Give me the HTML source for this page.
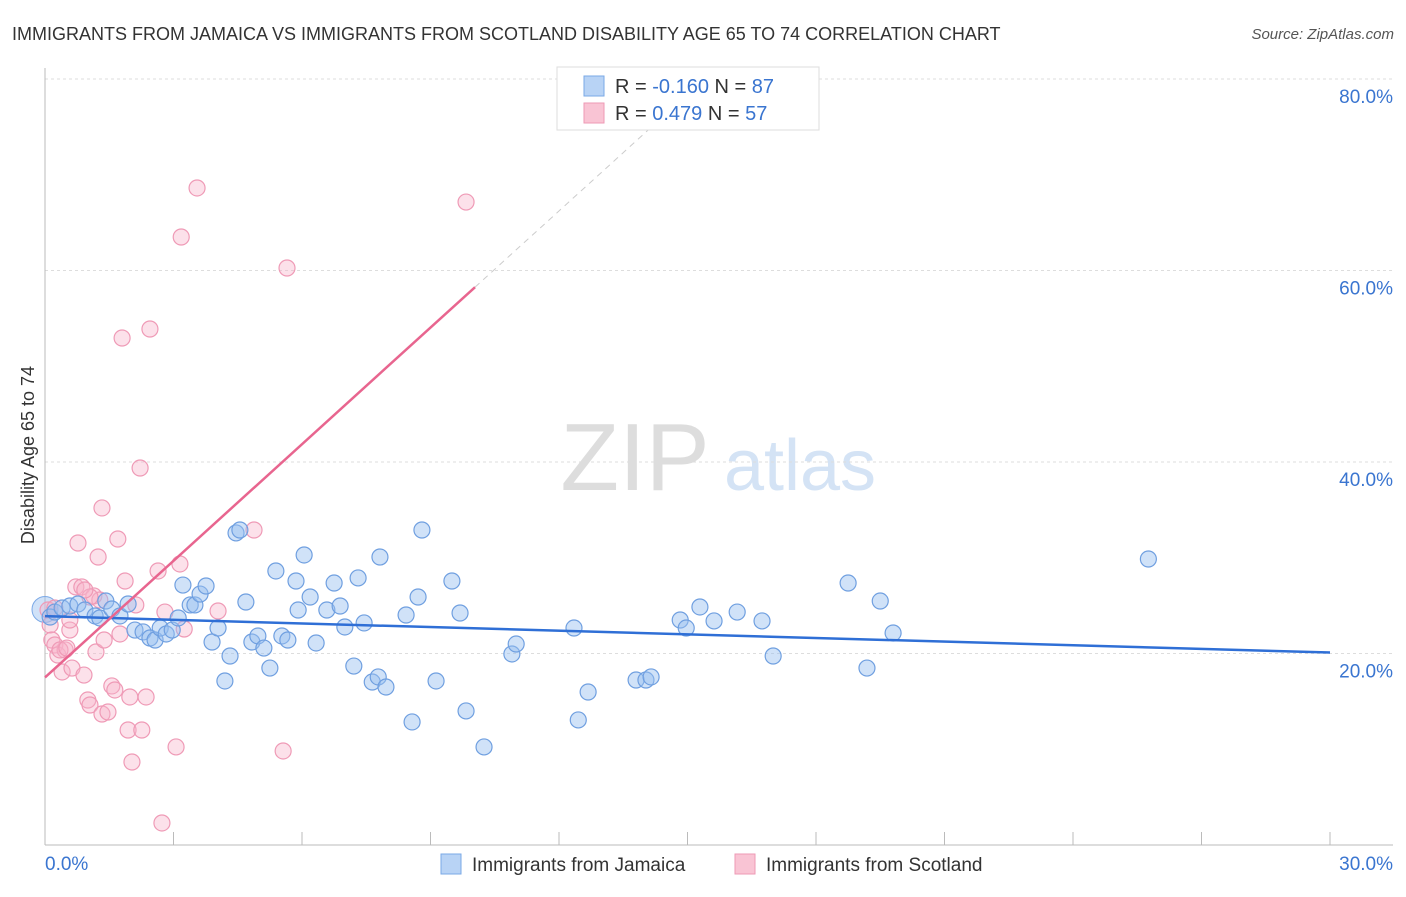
<!DOCTYPE html>
<html><head><meta charset="utf-8"><style>
body{margin:0;background:#fff;font-family:"Liberation Sans",sans-serif}
svg text{font-family:"Liberation Sans",sans-serif}
</style></head><body>
<svg id="c" width="1406" height="892">
<text x="12" y="40" font-size="18" fill="#333">IMMIGRANTS FROM JAMAICA VS IMMIGRANTS FROM SCOTLAND DISABILITY AGE 65 TO 74 CORRELATION CHART</text>
<text x="1394" y="39" font-size="15" fill="#555" font-style="italic" text-anchor="end">Source: ZipAtlas.com</text>
<text x="34" y="455" font-size="18" fill="#333" text-anchor="middle" transform="rotate(-90 34 455)">Disability Age 65 to 74</text>
<g><text x="635" y="490" font-size="96" fill="#ddd" font-family="Liberation Serif" text-anchor="middle">ZIP</text><text x="800" y="490" font-size="72" fill="#d4e3f5" text-anchor="middle">atlas</text></g>
<g id="grid"></g><g id="marks"></g>
<g>
<rect x="557" y="67" width="262" height="63" fill="#fff" stroke="#ddd"/>
<rect x="584" y="76" width="20" height="20" fill="#b8d3f5" stroke="#7aa8e6"/>
<rect x="584" y="103" width="20" height="20" fill="#f9c4d4" stroke="#ee9ab5"/>
<text x="615" y="93" font-size="20" fill="#333">R = <tspan fill="#3a75d0">-0.160</tspan>   N = <tspan fill="#3a75d0">87</tspan></text>
<text x="615" y="120" font-size="20" fill="#333">R =  <tspan fill="#3a75d0">0.479</tspan>   N = <tspan fill="#3a75d0">57</tspan></text>
</g>
<g>
<rect x="441" y="854" width="20" height="20" fill="#b8d3f5" stroke="#7aa8e6"/>
<text x="472" y="871" font-size="19" fill="#333">Immigrants from Jamaica</text>
<rect x="735" y="854" width="20" height="20" fill="#f9c4d4" stroke="#ee9ab5"/>
<text x="766" y="871" font-size="19" fill="#333">Immigrants from Scotland</text>
</g>
</svg>
<script>
const blueX=[0.12,0.23,0.40,0.58,0.77,0.93,1.17,1.28,1.42,1.56,1.75,1.94,2.10,2.29,2.45,2.57,2.69,2.83,2.97,3.11,3.22,3.39,3.50,3.62,3.76,3.90,4.04,4.20,4.32,4.46,4.55,4.69,4.83,4.97,5.11,5.25,5.39,5.53,5.67,5.86,5.91,6.05,6.19,6.33,6.58,6.75,6.89,7.00,7.21,7.31,7.45,7.64,7.78,7.96,7.82,8.43,8.57,8.71,8.80,9.13,9.50,9.69,9.83,10.25,10.90,11.00,12.35,12.45,12.68,13.80,14.03,14.15,14.83,14.97,15.29,15.62,16.16,16.74,17.00,18.75,19.19,19.50,19.80,25.76];
const blueY=[23.81,24.33,24.75,24.96,25.17,24.54,23.92,23.71,25.48,24.65,23.92,25.17,22.45,22.25,21.62,21.41,22.66,22.04,22.45,23.71,27.15,25.07,25.07,26.21,27.05,21.20,22.66,17.13,19.74,32.59,32.90,25.38,21.20,21.83,20.57,18.48,28.62,21.83,21.41,27.57,24.54,30.29,25.90,21.10,24.54,27.36,24.96,22.77,18.69,27.89,23.19,17.02,17.55,16.50,30.08,24.02,12.85,25.90,32.90,17.13,27.57,24.23,14.00,10.24,19.95,20.99,22.66,13.06,15.98,17.23,17.23,17.55,23.50,22.66,24.86,23.40,24.33,23.40,19.74,27.36,18.48,25.48,22.14,29.87];
const pinkX=[0.07,0.12,0.16,0.23,0.30,0.40,0.47,0.58,0.63,0.72,0.77,0.86,0.91,1.00,1.05,1.14,1.19,1.24,1.28,1.33,1.38,1.47,1.56,1.63,1.70,1.75,1.87,1.94,1.98,2.03,2.12,2.22,2.26,2.36,2.45,2.64,2.73,2.80,3.06,3.15,3.18,3.25,3.55,4.04,4.88,5.56,5.65,9.83,1.80,0.35,0.51,0.23,1.33,0.58,1.05,0.93];
const pinkY=[24.54,22.98,21.41,20.89,19.84,18.07,20.37,22.45,18.48,26.95,31.54,26.95,17.75,15.14,14.62,26.01,20.16,30.08,25.59,13.68,21.41,13.89,16.61,16.19,31.96,22.04,27.57,12.01,15.46,8.67,25.07,39.37,12.01,15.46,53.89,28.62,2.30,24.33,10.24,29.35,63.50,22.56,68.62,24.44,32.90,9.82,60.26,67.15,52.95,20.37,20.57,24.75,35.20,23.50,25.90,26.63];
const yTicks=[20,40,60,80];
const xTickLabels=["0.0%","30.0%"];
const blueFit=[23.9,20.1];
const pinkFit=[17.5,4.06];
const NS="http://www.w3.org/2000/svg";
const sx=v=>45+v/30*1285, sy=v=>845-v/20*191.5;
function mk(t,a,p){const e=document.createElementNS(NS,t);for(const k in a)e.setAttribute(k,a[k]);p.appendChild(e);return e;}
const g=document.getElementById('grid'),m=document.getElementById('marks');
yTicks.forEach(t=>{const l=mk('line',{x1:45,x2:1393,y1:sy(t),y2:sy(t),stroke:'#ddd','stroke-dasharray':'3,3'},g);


const tx=mk('text',{x:1393,y:sy(t)+24,'font-size':19,fill:'#3a75d0','text-anchor':'end'},g);tx.textContent=t.toFixed(1)+'%';

});
const ax=mk('line',{x1:45,x2:1393,y1:845,y2:845,stroke:'#bbb'},g);


const ay=mk('line',{x1:45,x2:45,y1:68,y2:845,stroke:'#bbb'},g);


for(let i=0;i<=10;i++){const t=mk('line',{x1:sx(i*3),x2:sx(i*3),y1:845,y2:832,stroke:'#bbb'},g);

}
xTickLabels.forEach((s,i)=>{const t=mk('text',{x:i?1393:45,y:870,'font-size':19,fill:'#3a75d0','text-anchor':i?'end':'start'},g);t.textContent=s;

});
const big=mk('circle',{cx:sx(0),cy:sy(24.6),r:13,fill:'rgba(150,190,240,0.45)',stroke:'#7aa8e6'},m);


pinkX.forEach((x,i)=>{const c=mk('circle',{cx:sx(x),cy:sy(pinkY[i]),r:8,fill:'rgba(247,180,202,0.4)',stroke:'#ef9ab6','stroke-width':1.2},m);

});
blueX.forEach((x,i)=>{const c=mk('circle',{cx:sx(x),cy:sy(blueY[i]),r:8,fill:'rgba(150,190,240,0.45)',stroke:'#6f9fe0','stroke-width':1.2},m);

});
const bl=mk('line',{x1:sx(0),y1:sy(blueFit[0]),x2:sx(30),y2:sy(blueFit[1]),stroke:'#2f6fd6','stroke-width':2.5},m);


const pf=x=>pinkFit[0]+pinkFit[1]*x;
const pl=mk('line',{x1:sx(0),y1:sy(pf(0)),x2:sx(10.04),y2:sy(pf(10.04)),stroke:'#e8658f','stroke-width':2.5},m);


const pd=mk('line',{x1:sx(10.04),y1:sy(pf(10.04)),x2:sx(14.2),y2:sy(pf(14.2)),stroke:'#ccc','stroke-width':1,'stroke-dasharray':'6,5'},m);


</script>
</body></html>
